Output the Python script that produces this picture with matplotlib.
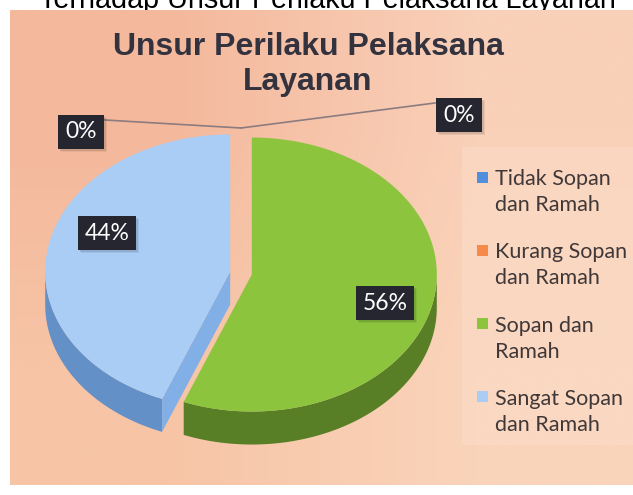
import matplotlib.pyplot as plt
import numpy as np
from matplotlib.patches import Polygon, Rectangle

# data
categories = ['Tidak Sopan dan Ramah', 'Kurang Sopan dan Ramah',
              'Sopan dan Ramah', 'Sangat Sopan dan Ramah']
legend_labels = [['Tidak Sopan', 'dan Ramah'], ['Kurang Sopan', 'dan Ramah'],
                 ['Sopan dan', 'Ramah'], ['Sangat Sopan', 'dan Ramah']]
values = [0, 0, 56, 44]

top_colors = ['#4f8fdc', '#f58a4a', '#8cc43e', '#a9cdf5']
wall_colors = ['#3c6fb0', '#c0602a', '#587f26', '#6490c8']
face_colors = ['#4a80c8', '#d87040', '#6c9a30', '#82b0e6']

W, H = 633, 495
fig = plt.figure(figsize=(W / 100, H / 100), dpi=100)
ax = fig.add_axes([0, 0, 1, 1])
ax.set_xlim(0, W)
ax.set_ylim(H, 0)
ax.axis('off')

# page title (cut off at the top of the scan)
ax.text(327, 8, 'Terhadap Unsur Perilaku Pelaksana Layanan', ha='center',
        va='baseline', fontsize=20.7, family='Liberation Sans', color='black',
        zorder=0)

# chart area background
grad = np.array([[[244, 184, 156], [249, 208, 184]],
                 [[247, 196, 166], [250, 212, 186]]]) / 255
ax.imshow(grad, extent=(10, 633, 485, 10), interpolation='bilinear',
          aspect='auto', zorder=1)
ax.add_patch(Rectangle((462, 147), 171, 298, fc='#fbdcc9', ec='none',
                       alpha=0.55, zorder=1))

ax.text(308, 55, 'Unsur Perilaku Pelaksana', ha='center', va='baseline',
        fontsize=23, fontweight='bold', family='Liberation Sans',
        color='#333340', zorder=5)
ax.text(308, 90, 'Layanan', ha='center', va='baseline', fontsize=23,
        fontweight='bold', family='Liberation Sans', color='#333340', zorder=5)

# 3d pie
cx0, cy0 = 241, 273
rx, ry = 185, 137
depth = 33
ex = 11

vals = np.array(values, float)
frac = vals / vals.sum()
ends = np.cumsum(frac) * 360
starts = ends - frac * 360


def pts(c, th, dy=0.0):
    t = np.radians(th)
    return np.column_stack([c[0] + rx * np.sin(t), c[1] - ry * np.cos(t) + dy])


for i, v in enumerate(values):
    if v == 0:
        continue
    mid = np.radians((starts[i] + ends[i]) / 2)
    c = (cx0 + ex * np.sin(mid), cy0 - ex * ry / rx * np.cos(mid))
    a0, a1 = max(starts[i], 90), min(ends[i], 270)
    if a1 > a0:
        arc = np.linspace(a0, a1, 120)
        wall = np.vstack([pts(c, arc), pts(c, arc[::-1], depth)])
        ax.add_patch(Polygon(wall, closed=True, fc=wall_colors[i], ec='none',
                             zorder=2))
    for th, vis in ((starts[i], np.sin(np.radians(starts[i])) < -1e-6),
                    (ends[i], np.sin(np.radians(ends[i])) > 1e-6)):
        if vis:
            e = pts(c, [th])[0]
            face = [c, e, (e[0], e[1] + depth), (c[0], c[1] + depth)]
            ax.add_patch(Polygon(face, closed=True, fc=face_colors[i],
                                 ec='none', zorder=2))
    arc = np.linspace(starts[i], ends[i], 240)
    top = np.vstack([[c], pts(c, arc)])
    ax.add_patch(Polygon(top, closed=True, fc=top_colors[i], ec='none',
                         zorder=3))

# data labels
label_pos = [(81, 132), (459, 115), (385, 303), (107, 233)]
anchor = (cx0, cy0 - ry - 8)
labels = []
for i, v in enumerate(values):
    lx, ly = label_pos[i]
    if v == 0:
        side = 1 if lx < anchor[0] else -1
        ax.plot([lx + side * 24, anchor[0]], [ly - 12, anchor[1]],
                color='#8c7c80', lw=1.2, zorder=4)
    t = ax.text(lx, ly, f'{round(frac[i] * 100)}%', ha='center', va='center',
                color='white', fontsize=16.5, family='Lato',
                bbox=dict(boxstyle='square,pad=0.3', fc='#262630', ec='none'),
                zorder=6)
    labels.append(t)

# soft shadow under the label boxes
fig.canvas.draw()
inv = ax.transData.inverted()
for t in labels:
    bb = t.get_bbox_patch().get_window_extent()
    (x0, y0), (x1, y1) = inv.transform([[bb.x0, bb.y0], [bb.x1, bb.y1]])
    for k, a in ((3, 0.06), (2, 0.1)):
        ax.add_patch(Rectangle((min(x0, x1) + k, min(y0, y1) + k),
                               abs(x1 - x0), abs(y1 - y0), fc='black',
                               ec='none', alpha=a, zorder=5))

# legend
leg_y0, leg_step = 177, 73.3
for i, lines in enumerate(legend_labels):
    my = leg_y0 + i * leg_step
    ax.add_patch(Rectangle((477, my - 5.5), 11, 11, fc=top_colors[i],
                           ec='none', zorder=5))
    for j, line in enumerate(lines):
        ax.text(495, my + 8 + 26 * j, line, ha='left', va='baseline',
                fontsize=15.5, family='Lato', color='#403838', zorder=5)

plt.savefig('out.png', dpi=100)
